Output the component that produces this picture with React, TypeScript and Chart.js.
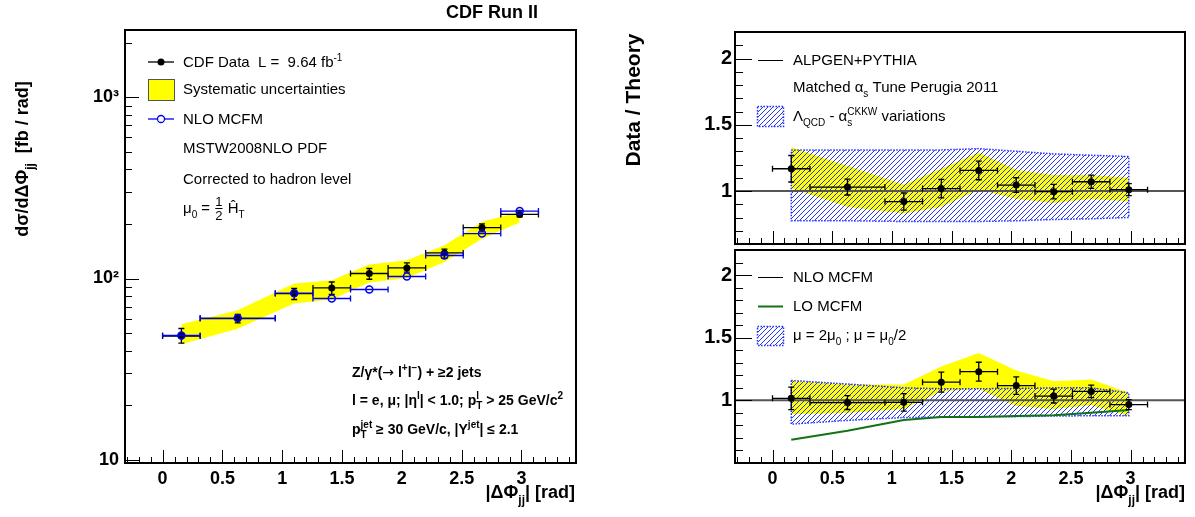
import React, { useEffect, useRef } from 'react';
import { Chart, registerables } from 'chart.js';

Chart.register(...registerables);

const FONT = '"Liberation Sans", Arial, Helvetica, sans-serif';
const SYMBOL_FONT = '"DejaVu Sans", sans-serif';
Chart.defaults.font.family = FONT;

// ---------------- data ----------------
const binLow = [0, 0.314, 0.942, 1.257, 1.571, 1.885, 2.199, 2.513, 2.827];
const binHigh = [0.314, 0.942, 1.257, 1.571, 1.885, 2.199, 2.513, 2.827, 3.142];
const binCenter = [0.157, 0.628, 1.1, 1.414, 1.728, 2.042, 2.356, 2.67, 2.985];

const xTickValues = [0, 0.5, 1, 1.5, 2, 2.5, 3];

const cdfData = [48.2, 60.1, 82.6, 88.7, 106.6, 114.4, 138.4, 191, 225.7];
const cdfErrUp = [4.8, 3.2, 5.5, 7, 7, 7.5, 7, 9, 12];
const cdfErrDown = [4.2, 3.2, 6, 7, 7.5, 6, 9, 10, 7];
const sysUpper = [55.9, 66.8, 93.8, 97.9, 119.5, 126, 152.6, 205.6, 233];
const sysLower = [43.4, 52.9, 72.8, 76.5, 95, 100.8, 123.5, 166, 204];
const nloMcfm = [48.5, 60.5, 83, 77.6, 87, 102.6, 134, 177, 235.5];

const logTickValues = [10, 100, 1000];
const logTickLabels = ['10', '10²', '10³'];
const logMinorTicks = [20, 30, 40, 50, 60, 70, 80, 90, 200, 300, 400, 500, 600, 700, 800, 900, 2000];

const ratioTickValues = [1, 1.5, 2];
const ratioTickLabels = ['1', '1.5', '2'];

const alpgenRatio = [1.168, 1.03, 0.92, 1.018, 1.155, 1.045, 0.995, 1.07, 1.01];
const alpgenRatioErr = [0.1, 0.06, 0.065, 0.07, 0.07, 0.055, 0.055, 0.05, 0.045];
const alpgenSysUpper = [1.33, 1.19, 1.05, 1.17, 1.29, 1.16, 1.12, 1.12, 1.1];
const alpgenSysLower = [1.02, 0.88, 0.83, 0.88, 1.01, 0.94, 0.91, 0.94, 0.92];
const alpgenVarUpper = [1.31, 1.31, 1.31, 1.31, 1.32, 1.3, 1.28, 1.27, 1.26];
const alpgenVarLower = [0.775, 0.775, 0.77, 0.77, 0.77, 0.775, 0.785, 0.79, 0.8];

const mcfmRatio = [1.016, 0.982, 0.984, 1.145, 1.229, 1.118, 1.034, 1.071, 0.966];
const mcfmRatioErr = [0.09, 0.055, 0.07, 0.08, 0.075, 0.07, 0.055, 0.05, 0.04];
const mcfmSysUpper = [1.159, 1.127, 1.127, 1.27, 1.378, 1.238, 1.153, 1.167, 1.06];
const mcfmSysLower = [0.889, 0.9, 0.93, 1.07, 1.09, 0.955, 0.93, 0.96, 0.875];
const mcfmScaleUpper = [1.159, 1.13, 1.1, 1.093, 1.093, 1.095, 1.1, 1.1, 1.06];
const mcfmScaleLower = [0.81, 0.84, 0.863, 0.866, 0.868, 0.87, 0.875, 0.877, 0.878];
const loMcfmRatio = [0.685, 0.757, 0.844, 0.868, 0.868, 0.875, 0.881, 0.902, 0.923];

// ---------------- helpers ----------------
const X_MIN = -0.1 * Math.PI;
const X_MAX = 1.1 * Math.PI;
const YELLOW = '#ffff00';
const HATCH_BLUE = '#2233ff';

const pts = (ys: number[]) => binCenter.map((x, i) => ({ x, y: ys[i] }));

function stepValues(from: number, to: number, step: number) {
  const out: number[] = [];
  const n = Math.round((to - from) / step);
  for (let i = 0; i <= n; i++) out.push(Math.round((from + i * step) * 1000) / 1000);
  return out;
}

// kinds: 0 normal, 1 sub, 2 sup, 3 stacked sub/sup, 4 fraction, 5 symbol font
type Seg = [string, number?, string?];

function drawRich(ctx: CanvasRenderingContext2D, segs: Seg[], x: number, y: number, size: number, weight = 'normal', align = 'left', color = '#000') {
  const big = `${weight} ${size}px ${FONT}`;
  const sym = `normal ${size}px ${SYMBOL_FONT}`;
  const small = `${weight} ${Math.round(size * 0.68)}px ${FONT}`;
  const frac = `${weight} ${Math.round(size * 0.85)}px ${FONT}`;
  const widths = segs.map(([t, k, t2]) => {
    if (!k) { ctx.font = big; return ctx.measureText(t).width; }
    if (k === 5) { ctx.font = sym; return ctx.measureText(t).width; }
    if (k === 4) { ctx.font = frac; return Math.max(ctx.measureText(t).width, ctx.measureText(t2 || '').width) + 2; }
    ctx.font = small;
    if (k === 3) return Math.max(ctx.measureText(t).width, ctx.measureText(t2 || '').width);
    return ctx.measureText(t).width;
  });
  const total = widths.reduce((a, b) => a + b, 0);
  let cx = align === 'left' ? x : align === 'right' ? x - total : x - total / 2;
  ctx.save();
  ctx.fillStyle = color;
  ctx.strokeStyle = color;
  ctx.textAlign = 'left';
  ctx.textBaseline = 'alphabetic';
  const base = y + size * 0.36;
  segs.forEach(([t, k, t2], i) => {
    if (!k) { ctx.font = big; ctx.fillText(t, cx, base); }
    else if (k === 5) { ctx.font = sym; ctx.fillText(t, cx, base); }
    else if (k === 1) { ctx.font = small; ctx.fillText(t, cx, base + size * 0.3); }
    else if (k === 2) { ctx.font = small; ctx.fillText(t, cx, base - size * 0.45); }
    else if (k === 3) { ctx.font = small; ctx.fillText(t, cx, base + size * 0.3); ctx.fillText(t2 || '', cx, base - size * 0.45); }
    else if (k === 4) {
      ctx.font = frac;
      const w = widths[i];
      ctx.textAlign = 'center';
      ctx.fillText(t, cx + w / 2, y - size * 0.12);
      ctx.fillText(t2 || '', cx + w / 2, y + size * 0.78);
      ctx.textAlign = 'left';
      ctx.lineWidth = 1;
      ctx.beginPath(); ctx.moveTo(cx + 1, y + 0.5); ctx.lineTo(cx + w - 1, y + 0.5); ctx.stroke();
    }
    cx += widths[i];
  });
  ctx.restore();
}

function makeHatch(ctx: CanvasRenderingContext2D) {
  const s = 5;
  const c = document.createElement('canvas');
  c.width = s; c.height = s;
  const g = c.getContext('2d') as CanvasRenderingContext2D;
  g.strokeStyle = HATCH_BLUE;
  g.lineWidth = 1;
  g.beginPath();
  g.moveTo(0, s); g.lineTo(s, 0);
  g.moveTo(-1, 1); g.lineTo(1, -1);
  g.moveTo(s - 1, s + 1); g.lineTo(s + 1, s - 1);
  g.stroke();
  return ctx.createPattern(c, 'repeat') as CanvasPattern;
}

interface ErrSpec { x: number[]; y: number[]; xlo: number[]; xhi: number[]; ylo?: number[]; yhi?: number[]; color: string; width: number; cap: number; }

function drawErrors(chart: any, e: ErrSpec) {
  const ctx: CanvasRenderingContext2D = chart.ctx;
  const xs = chart.scales.x, ys = chart.scales.y;
  ctx.save();
  ctx.strokeStyle = e.color;
  ctx.lineWidth = e.width;
  ctx.beginPath();
  e.x.forEach((xv, i) => {
    const X = xs.getPixelForValue(xv);
    const Y = ys.getPixelForValue(e.y[i]);
    const x0 = xs.getPixelForValue(e.xlo[i]);
    const x1 = xs.getPixelForValue(e.xhi[i]);
    ctx.moveTo(x0, Y); ctx.lineTo(x1, Y);
    ctx.moveTo(x0, Y - e.cap); ctx.lineTo(x0, Y + e.cap);
    ctx.moveTo(x1, Y - e.cap); ctx.lineTo(x1, Y + e.cap);
    if (e.ylo && e.yhi) {
      const y0 = ys.getPixelForValue(e.ylo[i]);
      const y1 = ys.getPixelForValue(e.yhi[i]);
      ctx.moveTo(X, y0); ctx.lineTo(X, y1);
      ctx.moveTo(X - e.cap, y0); ctx.lineTo(X + e.cap, y0);
      ctx.moveTo(X - e.cap, y1); ctx.lineTo(X + e.cap, y1);
    }
  });
  ctx.stroke();
  ctx.restore();
}

interface FrameSpec { xMajor: number[]; xMinor: number[]; yMajor: number[]; yMinor: number[]; xMajLen: number; xMinLen: number; yMajLen: number; yMinLen: number; }

function drawFrame(chart: any, f: FrameSpec) {
  const ctx: CanvasRenderingContext2D = chart.ctx;
  const { left, right, top, bottom } = chart.chartArea;
  const xs = chart.scales.x, ys = chart.scales.y;
  ctx.save();
  ctx.strokeStyle = '#000';
  ctx.lineWidth = 1;
  ctx.beginPath();
  f.xMinor.forEach((v) => { const p = Math.round(xs.getPixelForValue(v)) + 0.5; ctx.moveTo(p, bottom); ctx.lineTo(p, bottom - f.xMinLen); });
  f.xMajor.forEach((v) => { const p = Math.round(xs.getPixelForValue(v)) + 0.5; ctx.moveTo(p, bottom); ctx.lineTo(p, bottom - f.xMajLen); });
  f.yMinor.forEach((v) => { const p = Math.round(ys.getPixelForValue(v)) + 0.5; ctx.moveTo(left, p); ctx.lineTo(left + f.yMinLen, p); });
  f.yMajor.forEach((v) => { const p = Math.round(ys.getPixelForValue(v)) + 0.5; ctx.moveTo(left, p); ctx.lineTo(left + f.yMajLen, p); });
  ctx.stroke();
  ctx.lineWidth = 2;
  ctx.strokeRect(left, top, right - left, bottom - top);
  ctx.restore();
}

const tickFont = { family: FONT, size: 18, weight: 'bold' as const };
const ratioTickFont = { family: FONT, size: 20, weight: 'bold' as const };

function xScale(show: boolean) {
  return {
    type: 'linear',
    min: X_MIN,
    max: X_MAX,
    display: show,
    grid: { display: false, drawTicks: false },
    border: { display: false },
    afterBuildTicks: (s: any) => { s.ticks = xTickValues.map((v) => ({ value: v })); },
    ticks: { font: tickFont, color: '#000', padding: 5, autoSkip: false, maxRotation: 0, callback: (v: any) => String(v) },
    afterFit: (s: any) => { s.height = show ? 54 : 0; },
  };
}

const xMinorAll = stepValues(-0.3, 3.4, 0.1);

// ---------------- charts ----------------
function makeMain(canvas: HTMLCanvasElement) {
  const ctx = canvas.getContext('2d') as CanvasRenderingContext2D;
  const dataErr: ErrSpec = {
    x: binCenter, y: cdfData, xlo: binLow, xhi: binHigh,
    ylo: cdfData.map((v, i) => v - cdfErrDown[i]), yhi: cdfData.map((v, i) => v + cdfErrUp[i]),
    color: '#000', width: 1.3, cap: 3,
  };
  const nloErr: ErrSpec = { x: binCenter, y: nloMcfm, xlo: binLow, xhi: binHigh, color: '#0000ee', width: 1.3, cap: 3 };
  const frame: FrameSpec = {
    xMajor: xTickValues, xMinor: xMinorAll, yMajor: logTickValues, yMinor: logMinorTicks,
    xMajLen: 13, xMinLen: 6, yMajLen: 14, yMinLen: 7,
  };
  const plugin = {
    id: 'mainPanel',
    beforeDatasetDraw(chart: any, args: any) {
      if (args.index === 0) drawErrors(chart, dataErr);
      if (args.index === 1) drawErrors(chart, nloErr);
    },
    afterDraw(chart: any) {
      drawFrame(chart, frame);
      const c: CanvasRenderingContext2D = chart.ctx;
      drawRich(c, [['CDF Run II']], 492, 12, 18, 'bold', 'center');
      c.save(); c.translate(22, 159); c.rotate(-Math.PI / 2);
      drawRich(c, [['dσ/dΔΦ'], ['jj', 1], ['  [fb / rad]']], 0, 0, 18, 'bold', 'center');
      c.restore();
      drawRich(c, [['|ΔΦ'], ['jj', 1], ['| [rad]']], 575, 492, 18, 'bold', 'right');
      // legend
      c.save();
      c.lineWidth = 1.3;
      c.strokeStyle = '#000';
      c.beginPath(); c.moveTo(148, 62); c.lineTo(174, 62); c.stroke();
      c.fillStyle = '#000'; c.beginPath(); c.arc(161, 62, 3.5, 0, Math.PI * 2); c.fill();
      c.fillStyle = YELLOW; c.fillRect(148, 79, 26, 21);
      c.strokeStyle = '#555'; c.lineWidth = 1; c.strokeRect(148.5, 79.5, 26, 21);
      c.strokeStyle = '#0000ee'; c.lineWidth = 1.3;
      c.beginPath(); c.moveTo(148, 119); c.lineTo(174, 119); c.stroke();
      c.fillStyle = '#fff'; c.beginPath(); c.arc(161, 119, 3.5, 0, Math.PI * 2); c.fill(); c.stroke();
      c.restore();
      drawRich(c, [['CDF Data  L =  9.64 fb'], ['-1', 2]], 183, 62, 15);
      drawRich(c, [['Systematic uncertainties']], 183, 89, 15);
      drawRich(c, [['NLO MCFM']], 183, 119, 15);
      drawRich(c, [['MSTW2008NLO PDF']], 183, 148, 15);
      drawRich(c, [['Corrected to hadron level']], 183, 179, 15);
      drawRich(c, [['μ'], ['0', 1], [' = '], ['1', 4, '2'], [' Ĥ'], ['T', 1]], 183, 208, 15);
      drawRich(c, [['Z/γ*('], ['→', 5], [' l'], ['+', 2], ['l'], ['−', 2], [') + ≥2 jets']], 352, 372, 14, 'bold');
      drawRich(c, [['l = e, μ; |η'], ['l', 2], ['| < 1.0; p'], ['T', 3, 'l'], [' > 25 GeV/c'], ['2', 2]], 352, 400, 14, 'bold');
      drawRich(c, [['p'], ['T', 3, 'jet'], [' ≥ 30 GeV/c, |Y'], ['jet', 2], ['| ≤ 2.1']], 352, 429, 14, 'bold');
    },
  };
  return new Chart(ctx, {
    type: 'line',
    data: {
      datasets: [
        { label: 'CDF Data', data: pts(cdfData), showLine: false, pointRadius: 3.5, pointBackgroundColor: '#000', pointBorderColor: '#000', pointBorderWidth: 0, order: 2 },
        { label: 'NLO MCFM', data: pts(nloMcfm), showLine: false, pointRadius: 3.5, pointBackgroundColor: 'rgba(255,255,255,0)', pointBorderColor: '#0000ee', pointBorderWidth: 1.5, order: 1 },
        { label: 'Systematic uncertainties', data: pts(sysUpper), fill: '+1', backgroundColor: YELLOW, borderWidth: 0, pointRadius: 0, order: 5 },
        { label: 'sys low', data: pts(sysLower), fill: false, borderWidth: 0, pointRadius: 0, order: 6 },
      ],
    } as any,
    options: {
      responsive: false,
      animation: false,
      devicePixelRatio: 1,
      layout: { padding: { left: 0, top: 30, right: 1195 - 576, bottom: 0 } },
      plugins: { legend: { display: false }, tooltip: { enabled: false } },
      scales: {
        x: xScale(true),
        y: {
          type: 'logarithmic',
          min: 9.6,
          max: 2350,
          grid: { display: false, drawTicks: false },
          border: { display: false },
          afterBuildTicks: (s: any) => { s.ticks = logTickValues.map((v) => ({ value: v })); },
          ticks: { font: tickFont, color: '#000', padding: 6, autoSkip: false, callback: (v: any) => logTickLabels[logTickValues.indexOf(Number(v))] ?? '' },
          afterFit: (s: any) => { s.width = 125; },
        },
      },
    } as any,
    plugins: [plugin],
  });
}

interface RatioSpec {
  id: string; top: number; bottom: number; yMin: number; yMax: number; showX: boolean;
  ratio: number[]; err: number[]; sysUp: number[]; sysLo: number[]; varUp: number[]; varLo: number[];
  lo?: number[]; text: (c: CanvasRenderingContext2D, hatch: CanvasPattern) => void;
}

function hatchBox(c: CanvasRenderingContext2D, hatch: CanvasPattern, x: number, y: number, w: number, h: number) {
  c.save();
  c.fillStyle = hatch; c.fillRect(x, y, w, h);
  c.strokeStyle = HATCH_BLUE; c.lineWidth = 1.5; c.setLineDash([1.5, 1.5]);
  c.strokeRect(x, y, w, h);
  c.restore();
}

function legendLine(c: CanvasRenderingContext2D, y: number, color: string, width: number) {
  c.save(); c.strokeStyle = color; c.lineWidth = width;
  c.beginPath(); c.moveTo(758, y + 0.5); c.lineTo(783, y + 0.5); c.stroke(); c.restore();
}

function makeRatio(canvas: HTMLCanvasElement, s: RatioSpec) {
  const ctx = canvas.getContext('2d') as CanvasRenderingContext2D;
  const hatch = makeHatch(ctx);
  const err: ErrSpec = {
    x: binCenter, y: s.ratio, xlo: binLow, xhi: binHigh,
    ylo: s.ratio.map((v, i) => v - s.err[i]), yhi: s.ratio.map((v, i) => v + s.err[i]),
    color: '#000', width: 1.3, cap: 3,
  };
  const frame: FrameSpec = {
    xMajor: xTickValues, xMinor: xMinorAll, yMajor: stepValues(0.5, 2, 0.5).filter((v) => v >= s.yMin && v <= s.yMax),
    yMinor: stepValues(0.5, 2.2, 0.1).filter((v) => v >= s.yMin && v <= s.yMax),
    xMajLen: 13, xMinLen: 6, yMajLen: 17, yMinLen: 8,
  };
  const poly = [...pts(s.varUp), ...pts(s.varLo).reverse(), { x: binCenter[0], y: s.varUp[0] }];
  const datasets: any[] = [
    { label: 'Data', data: pts(s.ratio), showLine: false, pointRadius: 3.5, pointBackgroundColor: '#000', pointBorderColor: '#000', pointBorderWidth: 0, order: 1 },
    { label: 'Theory = 1', data: [{ x: X_MIN, y: 1 }, { x: X_MAX, y: 1 }], borderColor: '#555', borderWidth: 2, pointRadius: 0, fill: false, order: 3 },
    { label: 'variation up', data: pts(s.varUp), fill: '+1', backgroundColor: hatch, borderWidth: 0, pointRadius: 0, order: 5 },
    { label: 'variation low', data: pts(s.varLo), fill: false, borderWidth: 0, pointRadius: 0, order: 6 },
    { label: 'variation edge', data: poly, fill: false, borderColor: HATCH_BLUE, borderWidth: 1.5, borderDash: [1.5, 1.5], pointRadius: 0, order: 4 },
    { label: 'sys up', data: pts(s.sysUp), fill: '+1', backgroundColor: YELLOW, borderWidth: 0, pointRadius: 0, order: 7 },
    { label: 'sys low', data: pts(s.sysLo), fill: false, borderWidth: 0, pointRadius: 0, order: 8 },
  ];
  if (s.lo) datasets.push({ label: 'LO MCFM', data: pts(s.lo), borderColor: '#137313', borderWidth: 2, pointRadius: 0, fill: false, order: 2 });
  const plugin = {
    id: s.id,
    beforeDatasetDraw(chart: any, args: any) { if (args.index === 0) drawErrors(chart, err); },
    afterDraw(chart: any) { drawFrame(chart, frame); s.text(chart.ctx, hatch); },
  };
  return new Chart(ctx, {
    type: 'line',
    data: { datasets },
    options: {
      responsive: false,
      animation: false,
      devicePixelRatio: 1,
      layout: { padding: { left: 600, top: s.top, right: 10, bottom: s.showX ? 0 : 517 - s.bottom } },
      plugins: { legend: { display: false }, tooltip: { enabled: false } },
      scales: {
        x: xScale(s.showX),
        y: {
          type: 'linear',
          min: s.yMin,
          max: s.yMax,
          grid: { display: false, drawTicks: false },
          border: { display: false },
          afterBuildTicks: (sc: any) => { sc.ticks = ratioTickValues.map((v) => ({ value: v })); },
          ticks: { font: ratioTickFont, color: '#000', padding: 3, autoSkip: false, callback: (v: any) => ratioTickLabels[ratioTickValues.indexOf(Number(v))] ?? '' },
          afterFit: (sc: any) => { sc.width = 135; },
        },
      },
    } as any,
    plugins: [plugin],
  });
}

export default function App() {
  const r1 = useRef<HTMLCanvasElement>(null);
  const r2 = useRef<HTMLCanvasElement>(null);
  const r3 = useRef<HTMLCanvasElement>(null);
  useEffect(() => {
    document.body.style.margin = '0';
    const charts = [
      makeMain(r1.current as HTMLCanvasElement),
      makeRatio(r2.current as HTMLCanvasElement, {
        id: 'ratioTop', top: 32, bottom: 244, yMin: 0.6, yMax: 2.2, showX: false,
        ratio: alpgenRatio, err: alpgenRatioErr, sysUp: alpgenSysUpper, sysLo: alpgenSysLower,
        varUp: alpgenVarUpper, varLo: alpgenVarLower,
        text: (c, hatch) => {
          c.save(); c.translate(632, 100); c.rotate(-Math.PI / 2);
          drawRich(c, [['Data / Theory']], 0, 0, 21, 'bold', 'center');
          c.restore();
          legendLine(c, 60, '#000', 1);
          drawRich(c, [['ALPGEN+PYTHIA']], 793, 60, 15);
          drawRich(c, [['Matched α'], ['s', 1], [' Tune Perugia 2011']], 793, 87, 15);
          hatchBox(c, hatch, 757.5, 106.5, 26, 20);
          drawRich(c, [['Λ'], ['QCD', 1], [' - α'], ['s', 3, 'CKKW'], [' variations']], 793, 116, 15);
        },
      }),
      makeRatio(r3.current as HTMLCanvasElement, {
        id: 'ratioBottom', top: 250, bottom: 463, yMin: 0.5, yMax: 2.2, showX: true,
        ratio: mcfmRatio, err: mcfmRatioErr, sysUp: mcfmSysUpper, sysLo: mcfmSysLower,
        varUp: mcfmScaleUpper, varLo: mcfmScaleLower, lo: loMcfmRatio,
        text: (c, hatch) => {
          drawRich(c, [['|ΔΦ'], ['jj', 1], ['| [rad]']], 1185, 492, 18, 'bold', 'right');
          legendLine(c, 277, '#000', 1);
          drawRich(c, [['NLO MCFM']], 793, 277, 15);
          legendLine(c, 306, '#137313', 2);
          drawRich(c, [['LO MCFM']], 793, 306, 15);
          hatchBox(c, hatch, 757.5, 326.5, 26, 19);
          drawRich(c, [['μ = 2μ'], ['0', 1], [' ; μ = μ'], ['0', 1], ['/2']], 793, 335, 15);
        },
      }),
    ];
    return () => charts.forEach((ch) => ch.destroy());
  }, []);
  const st: React.CSSProperties = { position: 'absolute', left: 0, top: 0, width: 1195, height: 517 };
  return (
    <div style={{ position: 'relative', width: 1195, height: 517, background: '#fff' }}>
      <canvas ref={r1} width={1195} height={517} style={st} />
      <canvas ref={r2} width={1195} height={517} style={st} />
      <canvas ref={r3} width={1195} height={517} style={st} />
    </div>
  );
}
